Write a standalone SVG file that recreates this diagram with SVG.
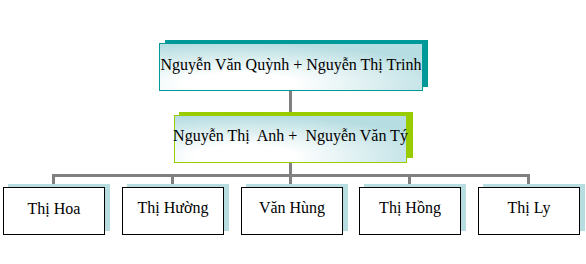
<svg xmlns="http://www.w3.org/2000/svg" width="586" height="264" viewBox="0 0 586 264">
  <defs>
    <radialGradient id="g" cx="0.3" cy="0.85" r="0.85" fx="0.3" fy="0.85">
      <stop offset="0.25" stop-color="#ffffff"/>
      <stop offset="1" stop-color="#b6dde1"/>
    </radialGradient>
  </defs>
  <style>
    text { font-family: "Liberation Serif", "Times New Roman", serif; font-size: 16px; fill: #000; text-anchor: middle; white-space: pre; }
    .conn { stroke: #808080; stroke-width: 3; fill: none; }
    .sh { fill: #b7dde0; }
    .leaf { fill: #ffffff; stroke: #000000; stroke-width: 1; }
  </style>
  <rect width="586" height="264" fill="#ffffff"/>
  <g id="connectors">
    <line class="conn" x1="290.5" y1="91" x2="290.5" y2="115"/>
    <line class="conn" x1="290.5" y1="162" x2="290.5" y2="175.5"/>
    <polyline class="conn" points="53.5,184 53.5,175.5 528.5,175.5 528.5,184"/>
    <line class="conn" x1="172.5" y1="175.5" x2="172.5" y2="184"/>
    <line class="conn" x1="290.5" y1="175.5" x2="290.5" y2="184"/>
    <line class="conn" x1="409.5" y1="175.5" x2="409.5" y2="184"/>
  </g>
  <g id="n_quynh_trinh">
    <rect x="165" y="40" width="263" height="47" fill="#009999"/>
    <rect x="159.5" y="43.5" width="263" height="47" fill="url(#g)" stroke="#009999" stroke-width="1"/>
    <text x="291" y="70">Nguyễn Văn Quỳnh + Nguyễn Thị Trinh</text>
  </g>
  <g id="n_anh_ty">
    <rect x="179" y="112" width="234" height="46" fill="#99cc00"/>
    <rect x="174.5" y="115.5" width="232" height="47" fill="url(#g)" stroke="#99cc00" stroke-width="1"/>
    <text x="290.5" y="141">Nguyễn Thị  Anh +  Nguyễn Văn Tý</text>
  </g>
  <g id="n_hoa">
    <rect class="sh" x="8" y="184" width="102" height="47"/>
    <rect class="leaf" x="3.5" y="187.5" width="101" height="47"/>
    <text x="54" y="214">Thị Hoa</text>
  </g>
  <g id="n_huong">
    <rect class="sh" x="127" y="184" width="102" height="47"/>
    <rect class="leaf" x="122.5" y="187.5" width="101" height="47"/>
    <text x="173" y="213">Thị Hường</text>
  </g>
  <g id="n_hung">
    <rect class="sh" x="246" y="184" width="102" height="47"/>
    <rect class="leaf" x="241.5" y="187.5" width="101" height="47"/>
    <text x="292" y="213">Văn Hùng</text>
  </g>
  <g id="n_hong">
    <rect class="sh" x="364" y="184" width="102" height="47"/>
    <rect class="leaf" x="359.5" y="187.5" width="101" height="47"/>
    <text x="410" y="213">Thị Hồng</text>
  </g>
  <g id="n_ly">
    <rect class="sh" x="483" y="184" width="102" height="47"/>
    <rect class="leaf" x="478.5" y="187.5" width="101" height="47"/>
    <text x="529" y="213">Thị Ly</text>
  </g>
</svg>
